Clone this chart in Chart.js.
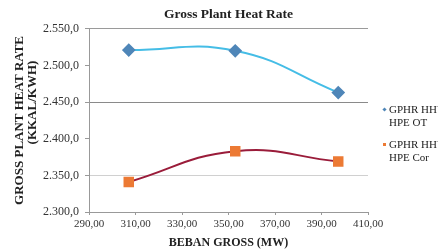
<!DOCTYPE html>
<html>
<head>
<meta charset="utf-8">
<script src="https://cdn.jsdelivr.net/npm/chart.js@4"></script>
<style>
  html, body { margin: 0; padding: 0; background: #fff; overflow: hidden; }
  #wrap { position: relative; width: 438px; height: 250px; overflow: hidden; }
  #legend { position: absolute; left: 383px; top: 103px; font: 11px "Liberation Serif", serif; color: #222; line-height: 13px; white-space: nowrap; }
  #legend .item { position: relative; padding-left: 6px; margin-bottom: 9px; }
  #legend .sw { position: absolute; left: 0; top: 5px; width: 3px; height: 3px; }
</style>
</head>
<body>
<div id="wrap">
  <canvas id="chart" width="438" height="250"></canvas>
  <div id="legend"></div>
</div>
<script>
// data
const bebanGross = [307.1, 352.9, 397.2];
const gphrOT = [2521, 2520, 2463];
const gphrCor = [2341, 2383, 2369];
const seriesNames = ['GPHR HHV HPE OT', 'GPHR HHV HPE Cor'];
const yTicks = [2300, 2350, 2400, 2450, 2500, 2550];
const xTicks = [290, 310, 330, 350, 370, 390, 410];

const blueLine = '#45bde6';
const blueMark = '#4f86b8';
const redLine = '#9a1c3a';
const redMark = '#ec7a34';

function toPoints(xs, ys) {
    return xs.map((x, i) => ({ x: x, y: ys[i] }));
}

// Indonesian style number format
function fmt(v, d) {
    let parts = v.toFixed(d).split('.');
    parts[0] = parts[0].replace(/\B(?=(\d{3})+(?!\d))/g, '.');
    return parts.join(',');
}

// only every other gridline shows in the original
function gridColor(ctx) {
    let v = ctx.tick && ctx.tick.value;
    if (v === 2550) return '#9a9a9a';
    if (v === 2450) return '#8a8a8a';
    if (v === 2350) return '#d0d0d0';
    return 'rgba(0,0,0,0)';
}

const serif = '"Liberation Serif", "DejaVu Serif", serif';

new Chart(document.getElementById('chart'), {
    type: 'scatter',
    data: {
        datasets: [{
            label: seriesNames[0],
            data: toPoints(bebanGross, gphrOT),
            showLine: true,
            tension: 0.45,
            borderColor: blueLine,
            borderWidth: 2,
            pointStyle: 'rectRot',
            pointRadius: 5.5,
            pointBackgroundColor: blueMark,
            pointBorderColor: blueMark
        }, {
            label: seriesNames[1],
            data: toPoints(bebanGross, gphrCor),
            showLine: true,
            tension: 0.45,
            borderColor: redLine,
            borderWidth: 2,
            pointStyle: 'rect',
            pointRadius: 6,
            pointBackgroundColor: redMark,
            pointBorderColor: redMark
        }]
    },
    options: {
        responsive: false,
        animation: false,
        layout: { padding: { left: 0, right: 70, top: 0, bottom: 0 } },
        plugins: {
            legend: { display: false },
            tooltip: { enabled: false },
            title: {
                display: true,
                fullSize: false,
                text: 'Gross Plant Heat Rate',
                color: '#222',
                font: { family: serif, size: 13.5, weight: 'bold', lineHeight: 1.1 },
                padding: { top: 7, bottom: 7 }
            }
        },
        scales: {
            x: {
                type: 'linear',
                min: 290,
                max: 410,
                afterBuildTicks: axis => { axis.ticks = xTicks.map(v => ({ value: v })); },
                afterFit: scale => { scale.height = 38; },
                ticks: {
                    callback: v => fmt(v, 2),
                    color: '#333',
                    font: { family: serif, size: 11 },
                    maxRotation: 0,
                    padding: 3
                },
                grid: { drawOnChartArea: false, drawTicks: true, tickLength: 3, color: '#999' },
                border: { color: '#999' },
                title: {
                    display: true,
                    text: 'BEBAN GROSS (MW)',
                    color: '#222',
                    font: { family: serif, size: 12, weight: 'bold' },
                    padding: { top: 2, bottom: 0 }
                }
            },
            y: {
                min: 2300,
                max: 2550,
                afterBuildTicks: axis => { axis.ticks = yTicks.map(v => ({ value: v })); },
                afterFit: scale => { scale.width = 89; },
                ticks: {
                    callback: v => fmt(v, 1),
                    color: '#333',
                    font: { family: serif, size: 12 },
                    padding: 6
                },
                grid: { color: gridColor, drawTicks: true, tickLength: 4, tickColor: '#999' },
                border: { color: '#999' },
                title: {
                    display: true,
                    // second line sits higher in the original, leading spaces shift it
                    text: ['GROSS PLANT HEAT RATE', '           (KKAL/KWH)'],
                    color: '#222',
                    font: { family: serif, size: 13, weight: 'bold', lineHeight: 1.0 },
                    padding: { top: 13, bottom: 0 }
                }
            }
        }
    }
});

// legend on the right, wrapped text like the original
const legend = document.getElementById('legend');
const swatches = [
    { color: blueMark, rot: true },
    { color: redMark, rot: false }
];
seriesNames.forEach((name, i) => {
    let words = name.split(' ');
    let item = document.createElement('div');
    item.className = 'item';
    item.innerHTML = '<span class="sw" style="background:' + swatches[i].color + ';' +
        (swatches[i].rot ? 'transform:rotate(45deg);' : '') + '"></span>' +
        words.slice(0, 2).join(' ') + '<br>' + words.slice(2).join(' ');
    legend.appendChild(item);
});
</script>
</body>
</html>
